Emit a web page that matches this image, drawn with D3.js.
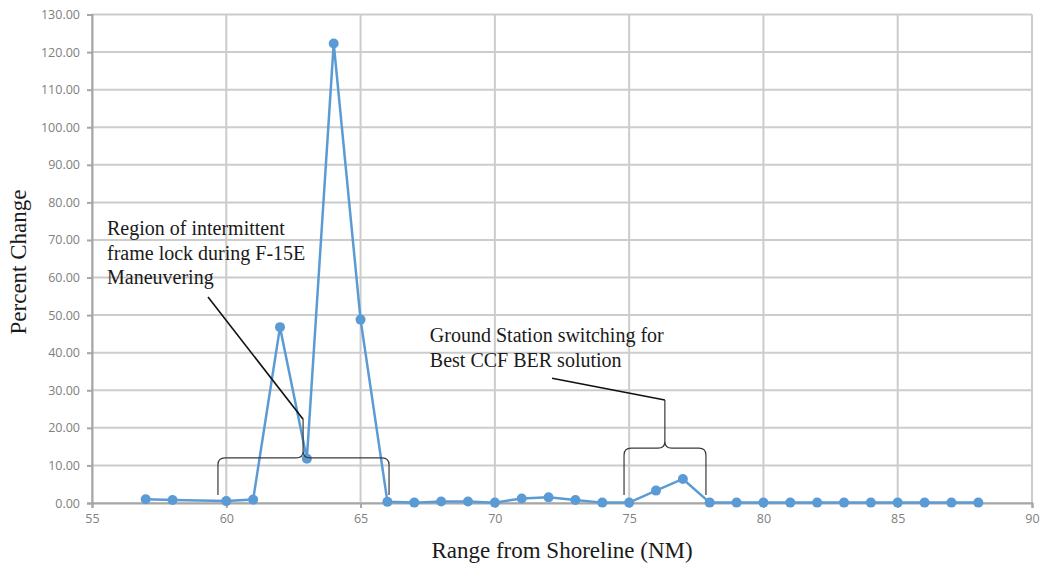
<!DOCTYPE html>
<html lang="en">
<head>
	<meta charset="UTF-8">
	<title>Percent Change vs Range</title>
	<style>
		body { margin: 0; background: #fff; }
		.tick text { font-family: "Open Sans", "Liberation Sans", sans-serif; font-size: 12.5px; fill: #808080; }
		.serif { font-family: "Liberation Serif", "DejaVu Serif", serif; fill: #1a1a1a; }
	</style>
</head>
<body>
	<script src="https://cdn.jsdelivr.net/npm/d3@7"></script>
	<script>
		var width = 1042,
			height = 565;

		// range from shoreline (NM) and percent change
		var ranges = [57, 58, 60, 61, 62, 63, 64, 65, 66, 67, 68, 69, 70, 71, 72, 73, 74, 75, 76, 77, 78, 79, 80, 81, 82, 83, 84, 85, 86, 87, 88];
		var pctChange = [1.0, 0.8, 0.5, 0.9, 46.8, 11.8, 122.3, 48.8, 0.3, 0.1, 0.4, 0.4, 0.1, 1.2, 1.5, 0.8, 0.1, 0.1, 3.3, 6.4, 0.1, 0.1, 0.1, 0.1, 0.1, 0.1, 0.1, 0.1, 0.1, 0.1, 0.1];

		var xTicks = [55, 60, 65, 70, 75, 80, 85, 90];
		var yTicks = [0, 10, 20, 30, 40, 50, 60, 70, 80, 90, 100, 110, 120, 130];

		// annotations in data units
		var noteLines1 = ["Region of intermittent", "frame lock during F-15E", "Maneuvering"];
		var noteLines2 = ["Ground Station switching for", "Best CCF BER solution"];
		// bracket: [x left, x mid, x right, y bottom, y bar, y tip], leader end [x, y], text anchor [x, y]
		var bracket1 = [59.69, 62.86, 66.06, 2.1, 12.0, 22.3];
		var leader1 = [59.32, 54.8];
		var text1 = [55.56, 71.3];
		var bracket2 = [74.81, 76.33, 77.86, 2.1, 14.6, 27.4];
		var leader2 = [72.13, 33.2];
		var text2 = [67.58, 42.8];

		var x = d3.scaleLinear().domain([55, 90]).range([92, 1032]),
			y = d3.scaleLinear().domain([0, 130]).range([503, 14.5]);

		var svg = d3.select("body").append("svg")
			.attr("width", width)
			.attr("height", height);

		// grid
		svg.append("g")
			.selectAll("line.h")
			.data(yTicks)
			.enter()
			.append("line")
			.attr("x1", x(55)).attr("x2", x(90))
			.attr("y1", function(d){ return y(d); })
			.attr("y2", function(d){ return y(d); })
			.attr("stroke", "#cccccc")
			.attr("stroke-width", 2);

		svg.append("g")
			.selectAll("line.v")
			.data(xTicks)
			.enter()
			.append("line")
			.attr("y1", y(0)).attr("y2", y(130))
			.attr("x1", function(d){ return x(d); })
			.attr("x2", function(d){ return x(d); })
			.attr("stroke", "#cccccc")
			.attr("stroke-width", 2);

		// axes
		var xAxis = d3.axisBottom(x)
			.tickValues(xTicks)
			.tickSize(5)
			.tickPadding(6)
			.tickFormat(d3.format("d"));

		var yAxis = d3.axisLeft(y)
			.tickValues(yTicks)
			.tickSize(5)
			.tickPadding(7)
			.tickFormat(d3.format(".2f"));

		var gx = svg.append("g")
			.attr("transform", "translate(0," + y(0) + ")")
			.call(xAxis);

		var gy = svg.append("g")
			.attr("transform", "translate(" + x(55) + ",0)")
			.call(yAxis);

		[gx, gy].forEach(function(g){
			g.selectAll("path.domain").attr("stroke", "#a6a6a6").attr("stroke-width", 2);
			g.selectAll(".tick line").attr("stroke", "#a6a6a6").attr("stroke-width", 2);
		});

		// data line
		var pts = ranges.map(function(r, i){ return {x: r, y: pctChange[i]}; });

		var line = d3.line()
			.x(function(d){ return x(d.x); })
			.y(function(d){ return y(d.y); });

		svg.append("path")
			.datum(pts)
			.attr("d", line)
			.attr("fill", "none")
			.attr("stroke", "#5b9bd5")
			.attr("stroke-width", 2.5);

		svg.selectAll("circle.pt")
			.data(pts)
			.enter()
			.append("circle")
			.attr("class", "pt")
			.attr("cx", function(d){ return x(d.x); })
			.attr("cy", function(d){ return y(d.y); })
			.attr("r", 5)
			.attr("fill", "#5b9bd5");

		// curly bracket path
		function bracketPath(b) {
			var xl = x(b[0]), xm = x(b[1]), xr = x(b[2]),
				yb = y(b[3]), ybar = y(b[4]), yt = y(b[5]),
				c = 7;
			var p = d3.path();
			p.moveTo(xl, yb);
			p.lineTo(xl, ybar + c);
			p.quadraticCurveTo(xl, ybar, xl + c, ybar);
			p.lineTo(xm - c, ybar);
			p.quadraticCurveTo(xm, ybar, xm, ybar - c);
			p.lineTo(xm, yt);
			p.moveTo(xm, ybar - c);
			p.quadraticCurveTo(xm, ybar, xm + c, ybar);
			p.lineTo(xr - c, ybar);
			p.quadraticCurveTo(xr, ybar, xr, ybar + c);
			p.lineTo(xr, yb);
			return p.toString();
		}

		[[bracket1, leader1], [bracket2, leader2]].forEach(function(a){
			var b = a[0], l = a[1];
			svg.append("path")
				.attr("d", bracketPath(b))
				.attr("fill", "none")
				.attr("stroke", "#3a3a3a")
				.attr("stroke-width", 1.2);
			svg.append("line")
				.attr("x1", x(b[1])).attr("y1", y(b[5]))
				.attr("x2", x(l[0])).attr("y2", y(l[1]))
				.attr("stroke", "#111")
				.attr("stroke-width", 1.6);
		});

		function addNote(lines, pos) {
			svg.append("text")
				.attr("class", "serif")
				.attr("font-size", 20)
				.selectAll("tspan")
				.data(lines)
				.enter()
				.append("tspan")
				.attr("x", x(pos[0]))
				.attr("y", function(d, i){ return y(pos[1]) + i * 24.5; })
				.text(function(d){ return d; });
		}
		addNote(noteLines1, text1);
		addNote(noteLines2, text2);

		// axis titles
		svg.append("text")
			.attr("class", "serif")
			.attr("font-size", 23)
			.attr("text-anchor", "middle")
			.attr("x", 562)
			.attr("y", 558)
			.text("Range from Shoreline (NM)");

		svg.append("text")
			.attr("class", "serif")
			.attr("font-size", 23)
			.attr("text-anchor", "middle")
			.attr("transform", "translate(26,262) rotate(-90)")
			.text("Percent Change");
	</script>
</body>
</html>
